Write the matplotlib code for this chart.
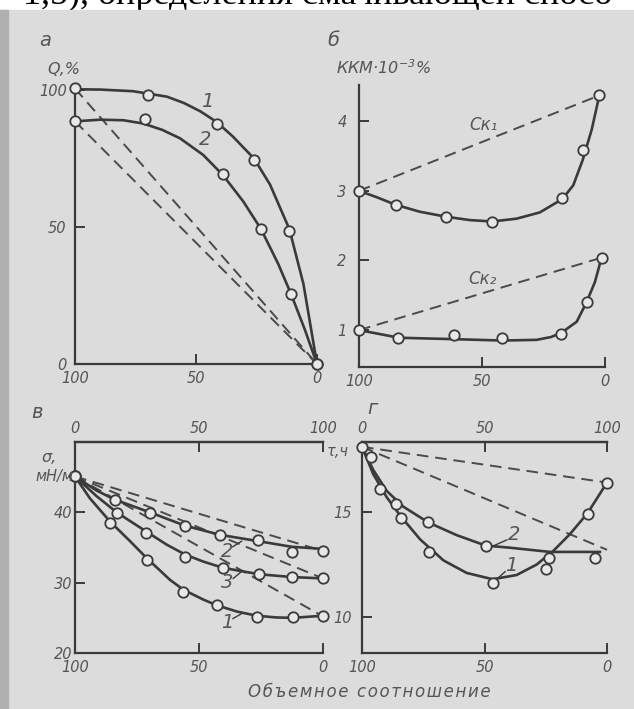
import numpy as np
import matplotlib.pyplot as plt
from matplotlib.patches import Rectangle

plt.rcParams['font.family'] = ['DejaVu Sans']
plt.rcParams['font.style'] = 'italic'
plt.rcParams['mathtext.default'] = 'it'

W, H = 634, 709
INK = '#3a3a3a'
TXT = '#555555'
PAPER = '#dcdcdc'

# --- panel а: Q, % ---
a_mx1 = [100, 69.8, 41.3, 26.0, 11.6, 0]
a_my1 = [100.6, 98.3, 87.8, 74.3, 48.4, 0]
a_mx2 = [100, 71.1, 38.8, 23.1, 10.7, 0]
a_my2 = [88.6, 89.6, 69.3, 49.2, 25.5, 0]
a_lx1 = [100, 89.7, 76, 62, 55, 48.3, 41.5, 34.7, 26, 19.4, 11.4, 5.6, 0]
a_ly1 = [100.3, 100.2, 99.6, 97.6, 95.3, 92.3, 88.4, 83, 75, 65.5, 49.2, 29.2, 0]
a_lx2 = [100, 89.7, 80, 71.8, 64, 56.6, 47, 39, 30.5, 23.1, 16, 10.7, 5, 0]
a_ly2 = [88.6, 89.2, 89.0, 87.8, 85.5, 82.4, 76.3, 69.1, 59.4, 49.2, 36.5, 25.5, 12.5, 0]

# --- panel б: ККМ ---
b_mx1 = [100, 85, 64.6, 45.9, 17.5, 8.9, 2.3]
b_my1 = [3.0, 2.80, 2.62, 2.55, 2.89, 3.59, 4.37]
b_lx1 = [100, 92.9, 85.1, 75.3, 64.9, 55, 45.9, 36, 26.5, 17.4, 12.9, 9.1, 5.4, 2.3]
b_ly1 = [3.0, 2.91, 2.80, 2.70, 2.63, 2.58, 2.56, 2.60, 2.69, 2.88, 3.08, 3.44, 3.88, 4.37]
b_mx2 = [100, 84, 61.4, 41.9, 18, 7.3, 1.4]
b_my2 = [1.0, 0.88, 0.93, 0.88, 0.95, 1.40, 2.04]
b_lx2 = [100, 83.7, 61.4, 41.8, 27.8, 22, 17.8, 11.5, 7.5, 4.1, 1.4]
b_ly2 = [1.0, 0.89, 0.87, 0.85, 0.86, 0.9, 0.96, 1.12, 1.40, 1.69, 2.04]

# --- panel в: sigma, мН/м ---
c_mx = {
    '1': [100, 85.9, 71.1, 56.6, 42.9, 26.7, 12, 0],
    '2': [100, 83.9, 69.8, 55.6, 41.5, 26.1, 12.6, 0],
    '3': [100, 83.2, 71.4, 55.6, 40.2, 25.8, 12.6, 0],
}
c_my = {
    '1': [45.1, 38.5, 33.2, 28.7, 26.8, 25.1, 25.1, 25.2],
    '2': [45.1, 41.7, 39.9, 38.0, 36.8, 36.1, 34.4, 34.5],
    '3': [45.1, 39.9, 37.0, 33.6, 32.1, 31.2, 30.8, 30.6],
}
c_lx = {
    '1': [100, 94, 85.9, 77.8, 71.1, 61.7, 56.3, 48.3, 42.9, 34.8, 26.7, 18.7, 12, 0],
    '2': [100, 91.3, 83.9, 69.8, 55.6, 41.5, 26.1, 12.6, 0],
    '3': [100, 91.3, 83.2, 71.4, 63, 55.6, 48.3, 40.2, 25.8, 12.6, 0],
}
c_ly = {
    '1': [45.1, 42.0, 38.7, 35.9, 33.5, 30.4, 29.0, 27.6, 26.8, 25.9, 25.3, 25.05, 25.0, 25.3],
    '2': [45.1, 43.1, 41.8, 40.0, 38.1, 36.8, 35.9, 35.1, 34.8],
    '3': [45.1, 42.3, 40.0, 37.3, 35.4, 34.0, 33.0, 32.1, 31.2, 30.8, 30.6],
}

# --- panel г: tau, ч ---
d_mx1 = [100, 92.7, 84.2, 72.5, 46.7, 24.9, 7.9, 0]
d_my1 = [18.1, 16.1, 14.7, 13.1, 11.6, 12.3, 14.9, 16.4]
d_mx2 = [96.5, 86.1, 72.9, 49.5, 23.7, 4.9]
d_my2 = [17.6, 15.4, 14.5, 13.4, 12.8, 12.8]
d_lx1 = [100, 95.4, 89.9, 84.2, 76.3, 66.8, 57.3, 46.7, 36.9, 28.7, 21.9, 15.1, 7.9, 0]
d_ly1 = [18.1, 16.8, 15.7, 14.8, 13.7, 12.7, 12.1, 11.8, 12.0, 12.5, 13.15, 13.95, 14.95, 16.4]
d_lx2 = [100, 95.4, 89.9, 83.1, 72.9, 61.4, 49.5, 39.6, 23.3, 2.9]
d_ly2 = [18.1, 17.0, 16.0, 15.25, 14.5, 13.9, 13.4, 13.3, 13.1, 13.1]
d_dash_end = [16.4, 13.2]

fig = plt.figure(figsize=(W / 100, H / 100), dpi=100)
fig.patches.append(Rectangle((0, 0), 1, 1 - 10 / H, transform=fig.transFigure,
                             color=PAPER, zorder=-10))
fig.patches.append(Rectangle((0, 0), 8 / W, 1 - 10 / H, transform=fig.transFigure,
                             color='#b0b0b0', zorder=-9))
fig.text(2 / W, 1 - 4 / H, '· 1,5), определения смачивающей спосо', fontsize=26,
         family=['Liberation Serif', 'DejaVu Serif'], style='normal', color='black',
         va='baseline', ha='left', zorder=-11)


def box(l, t, r, b):
    return [l / W, 1 - b / H, (r - l) / W, (b - t) / H]


def setup(ax, top=False, ypad=4):
    ax.set_facecolor('none')
    ax.spines['right'].set_visible(False)
    if not top:
        ax.spines['top'].set_visible(False)
    for s in ax.spines.values():
        s.set_linewidth(1.6)
        s.set_color(INK)
    ax.tick_params(axis='x', direction='in', length=7, width=1.4, color=INK,
                   labelcolor=TXT, labelsize=10.5, pad=5)
    ax.tick_params(axis='y', direction='in', length=7, width=1.4, color=INK,
                   labelcolor=TXT, labelsize=10.5, pad=ypad)
    ax.set_xlim(100, 0)


def curve(ax, lx, ly, mx, my):
    ax.plot(lx, ly, color=INK, lw=1.9, clip_on=False, zorder=3, solid_joinstyle='round')
    ax.plot(mx, my, 'o', ms=7.5, mfc='#e8e8e8', mec=INK, mew=1.3, clip_on=False, zorder=4)


def dash(ax, x, y):
    ax.plot(x, y, color='#4a4a4a', lw=1.4, ls=(0, (6, 3.5)), clip_on=False, zorder=2)


def top_axis(ax):
    sec = ax.secondary_xaxis('top', functions=(lambda v: 100 - v, lambda v: 100 - v))
    sec.set_xticks([0, 50, 100])
    sec.spines['top'].set_linewidth(1.6)
    sec.spines['top'].set_color(INK)
    sec.tick_params(direction='in', length=7, width=1.4, color=INK,
                    labelcolor=TXT, labelsize=10.5, pad=4)


# panel а
ax = fig.add_axes(box(75, 86, 317, 364))
setup(ax, ypad=6)
ax.set_ylim(0, 101.5)
ax.set_xticks([100, 50, 0])
ax.set_yticks([0, 50, 100])
dash(ax, [100, 0], [a_my1[0], 0])
dash(ax, [100, 0], [a_my2[0], 0])
curve(ax, a_lx1, a_ly1, a_mx1, a_my1)
curve(ax, a_lx2, a_ly2, a_mx2, a_my2)
ax.text(45.5, 95.7, '1', fontsize=14, color=TXT, ha='center', va='center')
ax.text(46.3, 81.9, '2', fontsize=14, color=TXT, ha='center', va='center')
fig.text(45 / W, 1 - 40 / H, 'а', fontsize=14, color=TXT, ha='center', va='center')
fig.text(64 / W, 1 - 69 / H, 'Q,%', fontsize=11.5, color=TXT, ha='center', va='center')

# panel б
ax = fig.add_axes(box(359, 85, 605, 367))
setup(ax, ypad=9)
ax.set_ylim(0.47, 4.52)
ax.set_xticks([100, 50, 0])
ax.set_yticks([1, 2, 3, 4])
dash(ax, [100, b_mx1[-1]], [b_my1[0], b_my1[-1]])
dash(ax, [100, b_mx2[-1]], [b_my2[0], b_my2[-1]])
curve(ax, b_lx1, b_ly1, b_mx1, b_my1)
curve(ax, b_lx2, b_ly2, b_mx2, b_my2)
ax.text(49.6, 3.95, 'Ск₁', fontsize=12, color=TXT, ha='center', va='center')
ax.text(50, 1.74, 'Ск₂', fontsize=12, color=TXT, ha='center', va='center')
fig.text(333 / W, 1 - 40 / H, 'б', fontsize=14, color=TXT, ha='center', va='center')
fig.text(383 / W, 1 - 68 / H, 'ККМ·10$^{-3}$%', fontsize=11.5, color=TXT,
         ha='center', va='center')

# panel в
ax = fig.add_axes(box(75, 442, 323, 653))
setup(ax, top=True, ypad=2)
ax.set_ylim(20, 50)
ax.set_xticks([100, 50, 0])
ax.set_yticks([20, 30, 40])
top_axis(ax)
for k in ['2', '3', '1']:
    dash(ax, [100, 0], [c_my[k][0], c_my[k][-1]])
for k in ['1', '2', '3']:
    curve(ax, c_lx[k], c_ly[k], c_mx[k], c_my[k])
for k, (tx, ty, x0, y0, x1, y1) in {'2': (38.6, 34.4, 36.4, 35.1, 32.8, 35.9),
                                    '3': (38.8, 30.0, 36.2, 30.6, 32.8, 31.6),
                                    '1': (38.8, 24.3, 36.3, 24.9, 32.8, 25.6)}.items():
    ax.text(tx, ty, k, fontsize=14, color=TXT, ha='center', va='center')
    ax.plot([x0, x1], [y0, y1], color=INK, lw=1.0)
fig.text(37 / W, 1 - 412 / H, 'в', fontsize=14, color=TXT, ha='center', va='center')
fig.text(49 / W, 1 - 457 / H, 'σ,', fontsize=11.5, color=TXT, ha='center', va='center')
fig.text(73 / W, 1 - 477 / H, 'мН/м', fontsize=10.5, color=TXT, ha='right', va='center')

# panel г
ax = fig.add_axes(box(362, 442, 607, 653))
setup(ax, top=True, ypad=7)
ax.set_ylim(8.29, 18.33)
ax.set_xticks([100, 50, 0])
ax.set_yticks([10, 15])
top_axis(ax)
for e in d_dash_end:
    dash(ax, [100, 0], [d_ly1[0], e])
curve(ax, d_lx1, d_ly1, d_mx1, d_my1)
curve(ax, d_lx2, d_ly2, d_mx2, d_my2)
ax.text(38, 13.95, '2', fontsize=14, color=TXT, ha='center', va='center')
ax.plot([40.9, 47.1], [13.67, 13.35], color=INK, lw=1.0)
ax.text(38.9, 12.43, '1', fontsize=14, color=TXT, ha='center', va='center')
ax.plot([41.6, 45], [12.16, 11.8], color=INK, lw=1.0)
fig.text(372 / W, 1 - 408 / H, 'г', fontsize=14, color=TXT, ha='center', va='center')
fig.text(338 / W, 1 - 452 / H, 'τ,ч', fontsize=10.5, color=TXT, ha='center', va='center')

fig.text(369 / W, 1 - 692 / H, '\u200a'.join('Объемное соотношение'), fontsize=12,
         color=TXT, ha='center', va='center')

fig.savefig('out.png', dpi=100)
